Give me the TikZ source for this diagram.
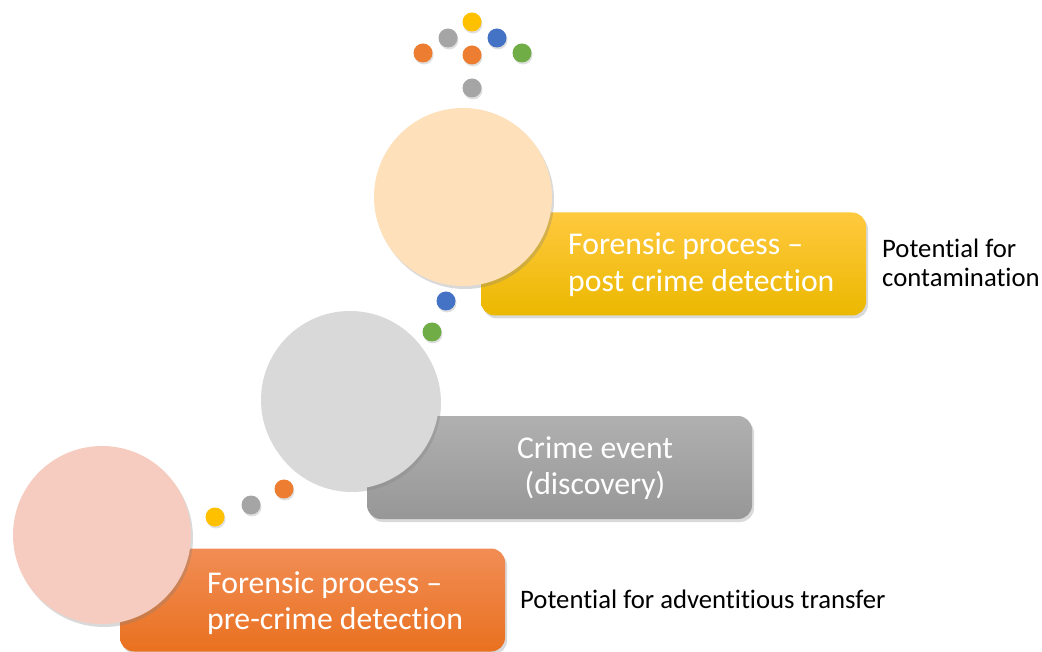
\documentclass[tikz,border=0pt]{standalone}
\usepackage{fontspec}
\setmainfont{Carlito}[Ligatures=NoCommon]
\usetikzlibrary{shadows}
\definecolor{dYellow}{HTML}{FFC000}
\definecolor{dGrey}{HTML}{A5A5A5}
\definecolor{dOrange}{HTML}{ED7D31}
\definecolor{dBlue}{HTML}{4472C4}
\definecolor{dGreen}{HTML}{70AD47}
\definecolor{cPink}{HTML}{F5CCBF}
\definecolor{cGrey}{HTML}{D9D9D9}
\definecolor{cPeach}{HTML}{FEE0BA}
\definecolor{oTop}{HTML}{F18D55}
\definecolor{oBot}{HTML}{E97120}
\definecolor{gTop}{HTML}{B0B0B0}
\definecolor{gBot}{HTML}{979797}
\definecolor{yTop}{HTML}{FFC93F}
\definecolor{yBot}{HTML}{EBB800}
\begin{document}
\begin{tikzpicture}[x=1pt,y=-1pt,
  bigcirc/.style={circle, minimum size=178pt, inner sep=0pt,
    drop shadow={shadow xshift=2pt,shadow yshift=-3pt,opacity=0.3}},
  band/.style={rectangle, rounded corners=14pt, minimum width=385pt,
    minimum height=103pt, inner sep=0pt,
    drop shadow={shadow xshift=2pt,shadow yshift=-3pt,opacity=0.3}},
  dot/.style={circle, minimum size=19pt, inner sep=0pt,
    drop shadow={shadow xshift=1pt,shadow yshift=-2pt,opacity=0.25}},
  boxtext/.style={text=white, font=\fontsize{31.7}{36.5}\selectfont,
    inner sep=0pt, text width=300pt},
  sidetext/.style={text=black, font=\fontsize{26.7}{29}\selectfont,
    inner sep=0pt, text width=170pt, align=flush left}]
\useasboundingbox (0,0) rectangle (1042,652);
% bands
\node[band, top color=oTop, bottom color=oBot] (bandA) at (312.5,600) {};
\node[band, top color=gTop, bottom color=gBot] (bandB) at (559.5,467.5) {};
\node[band, top color=yTop, bottom color=yBot] (bandC) at (673.5,264) {};
% circles
\node[bigcirc, fill=cPink] (circA) at (102,535) {};
\node[bigcirc, fill=cGrey] (circB) at (350,400) {};
\node[bigcirc, fill=cPeach] (circC) at (463,197) {};
% box texts
\node[boxtext, anchor=base west, align=flush left] (txtA) at (207,593)
  {Forensic process --\\pre-crime detection};
\node[boxtext, anchor=base, align=flush center] (txtB) at (595,458)
  {Crime event\\(discovery)};
\node[boxtext, anchor=base west, align=flush left] (txtC) at (568,255)
  {Forensic process --\\post crime detection};
% side texts
\node[sidetext, anchor=base west] (sideC) at (882,258)
  {Potential for\\contamination};
\node[sidetext, anchor=base west, text width=400pt] (sideA) at (520,608)
  {Potential for adventitious transfer};
% dots bottom
\node[dot, fill=dYellow] (d1) at (215,517) {};
\node[dot, fill=dGrey] (d2) at (251,505) {};
\node[dot, fill=dOrange] (d3) at (284,489) {};
% dots middle
\node[dot, fill=dGreen] (d4) at (432,332) {};
\node[dot, fill=dBlue] (d5) at (446,301) {};
% dots top
\node[dot, fill=dGrey] (d6) at (472,88) {};
\node[dot, fill=dOrange] (d7) at (423,53) {};
\node[dot, fill=dOrange] (d8) at (472,55) {};
\node[dot, fill=dGreen] (d9) at (522,53) {};
\node[dot, fill=dGrey] (d10) at (448,38) {};
\node[dot, fill=dBlue] (d11) at (497,38) {};
\node[dot, fill=dYellow] (d12) at (472,22) {};
\end{tikzpicture}
\end{document}
